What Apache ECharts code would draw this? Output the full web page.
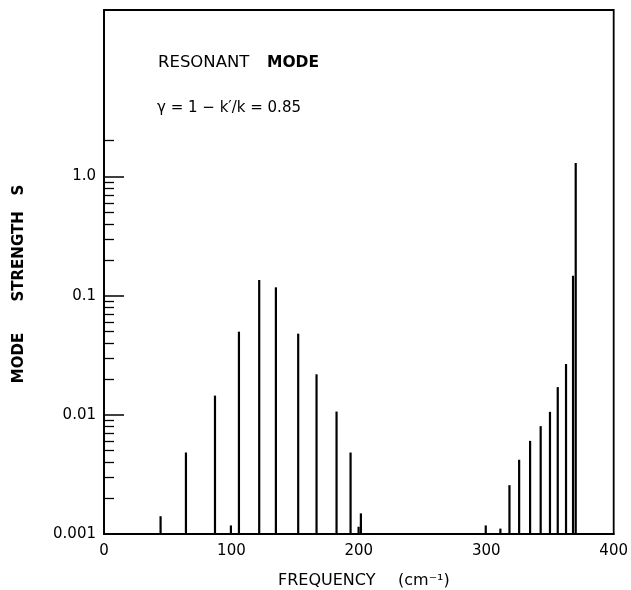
<!DOCTYPE html>
<html>
<head>
<meta charset="utf-8">
<script src="https://cdn.jsdelivr.net/npm/echarts@6/dist/echarts.min.js"></script>
<style>
  html, body { margin: 0; padding: 0; background: #fff; }
  #chart { width: 631px; height: 590px; }
</style>
</head>
<body>
<div id="chart"></div>
<script>
// mode frequencies (cm-1) and strengths
var frequency = [44.4, 64.3, 87.1, 99.6, 105.9, 121.8, 134.9, 152.4, 166.8, 182.5, 193.5, 199.8, 201.6,
  299.6, 311.1, 318.2, 325.8, 334.4, 342.7, 350.0, 356.1, 362.6, 368.1, 370.2];
var strength = [0.00141, 0.00483, 0.0145, 0.00118, 0.0499, 0.1355, 0.1176, 0.048, 0.0219, 0.01066, 0.00483, 0.00115, 0.00149,
  0.00118, 0.00111, 0.00257, 0.0042, 0.00605, 0.00804, 0.0106, 0.0171, 0.0267, 0.147, 1.30];

var xTicks = [0, 100, 200, 300, 400];
var yMajorTicks = [0.001, 0.01, 0.1, 1];
var yMajorLabels = ['0.001', '0.01', '0.1', '1.0'];
var yMinorTicks = [0.002, 0.003, 0.004, 0.005, 0.006, 0.007, 0.008, 0.009,
  0.02, 0.03, 0.04, 0.05, 0.06, 0.07, 0.08, 0.09,
  0.2, 0.3, 0.4, 0.5, 0.6, 0.7, 0.8, 0.9, 2];

var yMin = 0.001;
var yMax = 25;

var data = frequency.map(function (f, i) { return [f, strength[i]]; });

function yLabel(v) {
  for (var i = 0; i < yMajorTicks.length; i++) {
    if (Math.abs(Math.log10(v) - Math.log10(yMajorTicks[i])) < 1e-6) return yMajorLabels[i];
  }
  return '';
}

var chart = echarts.init(document.getElementById('chart'), null, { renderer: 'canvas' });

var font = 'DejaVu Sans';

var option = {
  backgroundColor: '#fff',
  animation: false,
  grid: {
    left: 104, right: 17, top: 10, bottom: 56,
    show: true, borderColor: '#000', borderWidth: 1.8
  },
  xAxis: {
    type: 'value', min: 0, max: 400, interval: 100,
    axisLine: { lineStyle: { color: '#000', width: 1.8 } },
    axisTick: { show: false },
    splitLine: { show: false },
    axisLabel: {
      customValues: xTicks,
      color: '#000', fontFamily: font, fontSize: 15, margin: 10
    }
  },
  yAxis: [{
    type: 'log', min: yMin, max: yMax, logBase: 10,
    axisLine: { lineStyle: { color: '#000', width: 1.8 } },
    splitLine: { show: false },
    axisTick: { inside: true, length: 20, customValues: yMajorTicks, lineStyle: { color: '#000', width: 1.5 } },
    axisLabel: {
      customValues: yMajorTicks,
      formatter: yLabel,
      color: '#000', fontFamily: font, fontSize: 15, margin: 8
    }
  }, {
    type: 'log', min: yMin, max: yMax, logBase: 10, position: 'left',
    axisLine: { show: false },
    splitLine: { show: false },
    axisTick: { inside: true, length: 10, customValues: yMinorTicks, lineStyle: { color: '#000', width: 1.3 } },
    axisLabel: { show: false }
  }],
  series: [{
    type: 'custom',
    yAxisIndex: 0,
    data: data,
    encode: { x: 0, y: 1 },
    renderItem: function (params, api) {
      var top = api.coord([api.value(0), api.value(1)]);
      var base = api.coord([api.value(0), yMin]);
      return {
        type: 'line',
        shape: { x1: top[0], y1: base[1], x2: top[0], y2: top[1] },
        style: { stroke: '#000', lineWidth: 2.2 }
      };
    }
  }],
  graphic: [{
    type: 'text', x: 158, y: 63,
    style: { text: 'RESONANT', fontFamily: font, fontSize: 16.5, fill: '#000', verticalAlign: 'middle' }
  }, {
    type: 'text', x: 267, y: 63,
    style: { text: 'MODE', fontFamily: font, fontSize: 15.5, fontWeight: 'bold', fill: '#000', verticalAlign: 'middle' }
  }, {
    type: 'text', x: 157, y: 108,
    style: {
      text: '\u03b3 = 1 \u2212 k\u2032/k = 0.85',
      fontFamily: font, fontSize: 15, fill: '#000', verticalAlign: 'middle'
    }
  }, {
    type: 'text', x: 278, y: 581,
    style: { text: 'FREQUENCY', fontFamily: font, fontSize: 16, fill: '#000', verticalAlign: 'middle' }
  }, {
    type: 'text', x: 398, y: 581,
    style: { text: '(cm\u207b\u00b9)', fontFamily: font, fontSize: 16, fill: '#000', verticalAlign: 'middle' }
  }, {
    type: 'text', x: 19, y: 284, rotation: Math.PI / 2,
    style: {
      text: 'MODE      STRENGTH   S',
      fontFamily: font, fontSize: 15, fontWeight: 'bold', fill: '#000', align: 'center', verticalAlign: 'middle'
    }
  }]
};

chart.setOption(option);
</script>
</body>
</html>
